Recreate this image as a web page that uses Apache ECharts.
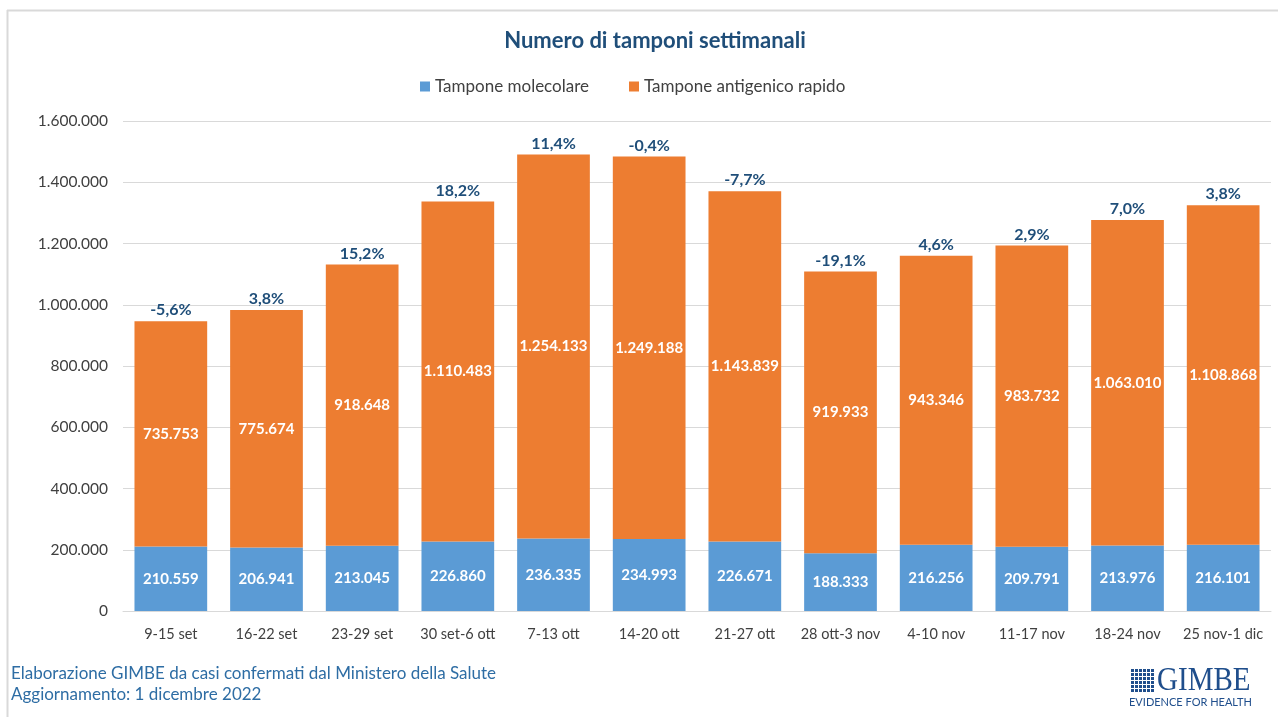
<!DOCTYPE html>
<html>
<head>
<meta charset="utf-8">
<script src="https://cdn.jsdelivr.net/npm/echarts@6/dist/echarts.min.js"></script>
<style>
  html, body { margin: 0; padding: 0; background: #fff; }
  #chart { width: 1278px; height: 717px; }
</style>
</head>
<body>
<div id="chart"></div>
<script>
const settimane = ['9-15 set', '16-22 set', '23-29 set', '30 set-6 ott', '7-13 ott', '14-20 ott',
  '21-27 ott', '28 ott-3 nov', '4-10 nov', '11-17 nov', '18-24 nov', '25 nov-1 dic'];
const molecolari = [210559, 206941, 213045, 226860, 236335, 234993, 226671, 188333, 216256, 209791, 213976, 216101];
const antigenici = [735753, 775674, 918648, 1110483, 1254133, 1249188, 1143839, 919933, 943346, 983732, 1063010, 1108868];
const variazioni = ['-5,6%', '3,8%', '15,2%', '18,2%', '11,4%', '-0,4%', '-7,7%', '-19,1%', '4,6%', '2,9%', '7,0%', '3,8%'];
const yTicks = [0, 200000, 400000, 600000, 800000, 1000000, 1200000, 1400000, 1600000];

const FONT = 'Lato, "Open Sans", sans-serif';
const fmt = v => String(v).replace(/\B(?=(\d{3})+(?!\d))/g, '.');

// logo a griglia
const logoCells = [];
for (let r = 0; r < 6; r++) {
  for (let c = 0; c < 6; c++) {
    logoCells.push({
      type: 'rect',
      shape: { x: 1131 + c * 4, y: 669 + r * 4, width: 3, height: 3 },
      style: { fill: '#1F4E8C' }
    });
  }
}

const getOption = () => {
  return {
    backgroundColor: '#fff',
    textStyle: { fontFamily: FONT },
    title: {
      text: 'Numero di tamponi settimanali',
      left: 650, top: 25, textAlign: 'center',
      textStyle: { fontFamily: FONT, fontSize: 22, fontWeight: 'bold', color: '#1F4E79' }
    },
    legend: {
      data: ['Tampone molecolare', 'Tampone antigenico rapido'],
      left: 420, top: 78, padding: 0,
      itemWidth: 10, itemHeight: 10, itemGap: 40,
      icon: 'rect',
      textStyle: { fontFamily: FONT, fontSize: 17, color: '#404040' }
    },
    grid: { left: 123, right: 7, top: 121, bottom: 106 },
    xAxis: {
      type: 'category',
      data: settimane,
      axisTick: { show: false },
      axisLine: { lineStyle: { color: '#D9D9D9' } },
      axisLabel: { fontFamily: FONT, fontSize: 14.5, color: '#404040', margin: 16, interval: 0 }
    },
    yAxis: {
      type: 'value',
      min: yTicks[0], max: yTicks[yTicks.length - 1], interval: yTicks[1] - yTicks[0],
      splitLine: { lineStyle: { color: '#D9D9D9' } },
      axisLabel: { fontFamily: FONT, fontSize: 15.5, color: '#404040', margin: 15, formatter: v => fmt(v) }
    },
    series: [
      {
        name: 'Tampone molecolare', type: 'bar', stack: 'tot', data: molecolari,
        barWidth: '76%',
        itemStyle: { color: '#5B9BD5' },
        label: { show: true, position: 'inside', color: '#fff', fontWeight: 'bold', fontSize: 15,
          fontFamily: FONT, formatter: p => fmt(p.value) }
      },
      {
        name: 'Tampone antigenico rapido', type: 'bar', stack: 'tot', data: antigenici,
        itemStyle: { color: '#ED7D31' },
        label: { show: true, position: 'inside', color: '#fff', fontWeight: 'bold', fontSize: 15,
          fontFamily: FONT, formatter: p => fmt(p.value) }
      },
      {
        name: 'variazione', type: 'bar', stack: 'tot', data: settimane.map(() => 0),
        itemStyle: { color: 'transparent' },
        label: { show: true, position: 'top', distance: 3, color: '#1F4E79', fontWeight: 'bold', fontSize: 16,
          fontFamily: FONT, formatter: p => variazioni[p.dataIndex] }
      }
    ],
    graphic: [
      { type: 'line', shape: { x1: 7, y1: 10.5, x2: 1278, y2: 10.5 }, style: { stroke: '#D9D9D9', lineWidth: 2 } },
      { type: 'line', shape: { x1: 7.5, y1: 10, x2: 7.5, y2: 717 }, style: { stroke: '#D9D9D9', lineWidth: 2 } },
      { type: 'text', left: 11, top: 665,
        style: { text: 'Elaborazione GIMBE da casi confermati dal Ministero della Salute', fontFamily: FONT, fontSize: 17, fill: '#2E6DA4' } },
      { type: 'text', left: 11, top: 686,
        style: { text: 'Aggiornamento: 1 dicembre 2022', fontFamily: FONT, fontSize: 17, fill: '#2E6DA4' } },
      { type: 'text', left: 1157, top: 665, scaleX: 0.88,
        style: { text: 'GIMBE', fontFamily: '"Liberation Serif", serif', fontSize: 33, fill: '#1F4E8C' } },
      { type: 'text', left: 1129, top: 697,
        style: { text: 'EVIDENCE FOR HEALTH', fontFamily: FONT, fontSize: 11, fill: '#1F4E8C' } },
      ...logoCells
    ]
  };
};

const initChart = () => {
  const chart = echarts.init(document.getElementById('chart'));
  chart.setOption(getOption());
};

window.addEventListener('load', () => {
  initChart();
});
</script>
</body>
</html>
